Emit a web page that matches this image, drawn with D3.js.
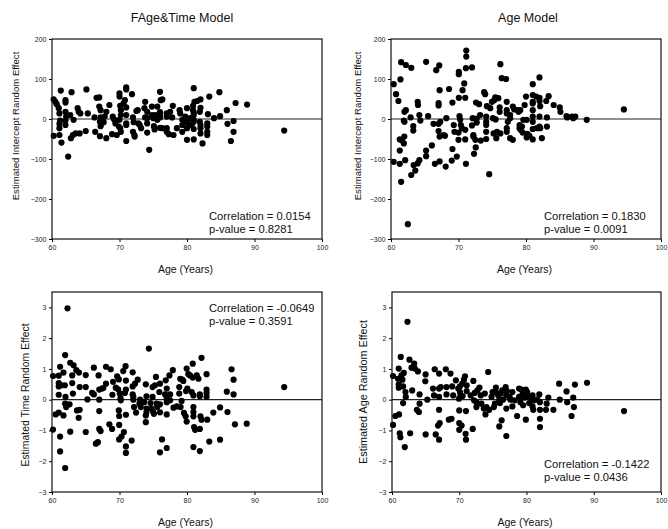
<!DOCTYPE html>
<html>
<head>
<meta charset="utf-8">
<script src="https://cdn.jsdelivr.net/npm/d3@7"></script>
<style>
  html, body { margin: 0; padding: 0; background: #fff; }
  svg { display: block; font-family: Arial, "Liberation Sans", sans-serif; }
</style>
</head>
<body>
<svg id="chart" width="668" height="529"></svg>
<script>
// Axis ticks
const ageTicks = [60, 70, 80, 90, 100];
const interceptTicks = [-300, -200, -100, 0, 100, 200];
const effectTicks = [-3, -2, -1, 0, 1, 2, 3];

// Estimated intercept random effects, FAge&Time model: [age, effect]
const fageTimeIntercept = [
  [60.25,49],[60.5,43],[60.7,37],[60.25,-42],[61.0,27],[61.1,14],[61.3,71],[61.2,-4],[61.1,-12],[61.1,-23],
  [61.1,-40],[61.4,-59],[62.0,47],[62.0,41],[62.0,18],[62.1,6],[62.0,-4],[62.0,-15],[62.4,-94],[62.9,67],
  [62.7,10],[62.8,-48],[63.1,-40],[63.2,-2],[63.5,-36],[63.8,27],[63.95,18],[64.2,14],[64.1,-36],[65.1,74],
  [65.0,-30],[65.3,14],[66.3,4],[66.4,-32],[66.6,53],[67.0,54],[67.0,31],[67.2,22],[67.2,4],[67.1,-7],
  [67.2,-18],[67.1,-43],[67.3,-11],[67.65,-8],[67.8,6],[68.05,18],[68.05,-48],[68.5,35],[68.9,-38],[69.0,6],
  [69.2,-1],[69.4,-11],[69.6,-40],[69.9,-19],[70.0,64],[70.0,56],[70.1,33],[70.2,22],[70.0,-2],[70.1,-23],
  [70.2,-32],[70.2,10],[70.6,39],[70.8,47],[71.0,79],[71.0,74],[71.0,29],[71.0,10],[71.0,-11],[71.0,-15],
  [71.0,-55],[71.85,62],[72.0,4],[72.1,-8],[72.0,-32],[72.2,-40],[72.25,-44],[72.5,20],[72.7,22],[72.8,-11],
  [73.0,-15],[73.2,-23],[73.7,27],[73.8,43],[73.8,4],[74.1,2],[74.1,-11],[74.1,-34],[74.4,-77],[74.1,18],
  [74.8,31],[74.8,10],[75.0,2],[75.1,-18],[75.2,-26],[75.3,10],[75.6,31],[75.6,-2],[76.0,68],[76.1,47],
  [76.35,49],[76.0,17],[76.0,10],[76.0,4],[76.0,-22],[76.35,-23],[77.0,14],[77.0,6],[77.0,-23],[77.0,-32],
  [77.3,-38],[77.5,18],[77.8,4],[77.9,33],[78.0,-40],[78.5,-23],[78.9,22],[79.0,14],[79.3,-2],[79.3,-15],
  [79.3,-32],[79.75,6],[79.85,-7],[80.0,27],[80.0,-23],[80.0,-52],[80.2,-12],[80.5,2],[80.7,-15],[80.9,33],
  [80.9,22],[81.0,16],[81.0,10],[81.0,-2],[81.0,-7],[81.0,-25],[81.0,-51],[81.0,77],[81.1,43],[81.5,45],
  [81.9,18],[81.9,-7],[82.0,-15],[82.0,-23],[82.0,-36],[82.0,49],[82.0,28],[82.3,-61],[83.0,-11],[83.0,-19],
  [83.0,-32],[83.0,-40],[83.1,12],[83.3,56],[84.0,2],[84.8,67],[84.9,7],[85.9,22],[86.0,-12],[86.5,-55],
  [86.9,-32],[86.9,-5],[87.2,40],[88.9,36],[94.4,-29]
];

// Estimated intercept random effects, Age model: [age, effect]
const ageModelIntercept = [
  [60.4,87],[60.4,-107],[60.75,62],[61.1,45],[61.3,-51],[61.3,-79],[61.3,-112],[61.4,99],[61.5,142],[61.5,-157],
  [61.6,-53],[61.9,-61],[61.97,-44],[62.0,18],[62.2,135],[62.2,22],[61.9,-4],[62.0,-7],[62.1,-103],[62.5,-263],
  [62.9,4],[63.0,128],[63.0,-140],[63.3,-18],[63.3,-29],[63.35,-115],[63.6,-129],[63.95,43],[64.0,35],[63.95,-111],
  [64.2,-103],[64.2,10],[64.35,-4],[65.2,143],[65.2,-79],[65.2,-93],[65.5,7],[66.05,-66],[66.3,-12],[66.5,-112],
  [66.7,122],[67.15,134],[67.05,40],[67.05,34],[67.2,72],[67.05,-12],[67.3,-7],[67.05,-30],[67.2,-44],[67.2,-106],
  [67.8,-40],[68.0,-42],[68.2,2],[68.1,-119],[68.6,75],[69.0,-104],[69.1,-75],[69.1,41],[69.3,-15],[69.4,-32],
  [69.75,-94],[70.05,118],[70.05,112],[70.05,53],[70.0,-34],[70.0,-52],[70.15,7],[70.25,-2],[70.35,-15],[70.5,-23],
  [70.6,72],[70.85,89],[71.0,53],[71.0,-27],[71.0,-51],[71.15,171],[71.15,156],[71.1,-112],[71.1,127],[72.0,129],
  [72.0,-16],[72.1,2],[72.2,-40],[72.2,-44],[72.3,-87],[72.5,-52],[72.55,-71],[72.6,41],[72.7,1],[72.7,-9],
  [73.05,37],[73.2,10],[73.3,-54],[73.8,67],[73.95,62],[74.1,6],[74.1,-7],[74.1,-15],[74.1,-32],[74.2,32],
  [74.1,-50],[74.55,-138],[74.7,27],[74.95,43],[75.1,2],[75.2,-36],[75.3,47],[75.45,54],[75.5,-1],[75.6,-48],
  [75.7,-32],[75.9,52],[76.1,18],[76.1,29],[76.2,137],[76.2,-36],[76.4,102],[77.05,100],[77.15,43],[77.15,22],
  [77.15,14],[77.15,-23],[77.15,-32],[77.3,-7],[77.65,10],[77.65,2],[77.65,-48],[78.05,31],[78.05,-52],[78.25,24],
  [78.75,22],[78.9,18],[79.05,-15],[79.05,-23],[79.15,22],[79.2,-27],[79.4,-19],[79.5,-34],[79.6,-2],[79.8,35],
  [80.0,56],[80.1,-2],[80.1,-46],[80.2,-37],[80.5,-42],[81.0,87],[81.0,60],[81.0,43],[81.0,39],[81.0,22],
  [81.0,6],[81.0,-7],[81.0,-25],[81.0,-51],[81.5,56],[81.6,-23],[82.0,104],[82.0,53],[82.0,45],[82.1,32],
  [82.0,6],[82.0,-19],[82.1,-23],[82.35,-48],[83.0,45],[83.1,4],[83.1,-19],[83.35,57],[84.1,35],[85.0,29],
  [85.1,18],[86.0,7],[86.1,4],[86.8,6],[87.0,2],[87.3,6],[89.0,-2],[94.5,24]
];

// Estimated time random effects, FAge&Time model: [age, effect]
const fageTimeSlope = [
  [60.15,0.77],[60.15,-0.97],[60.55,-0.48],[61.0,-0.42],[61.0,0.78],[61.0,0.54],[61.0,0.43],[61.0,0.16],[61.2,1.07],[61.2,-1.2],
  [61.2,-1.68],[61.4,0.47],[61.7,0.88],[61.7,-0.51],[61.9,0.47],[61.95,1.45],[62.0,0.09],[61.95,-2.22],[62.3,2.97],[61.95,-0.13],
  [62.1,-0.24],[62.6,-0.15],[62.7,1.2],[62.7,-1.04],[63.0,0.54],[63.0,0.79],[63.1,0.2],[63.2,1.12],[63.6,0.96],[63.7,-0.35],
  [63.95,-0.59],[64.1,-0.33],[64.0,0.88],[64.1,0.41],[65.0,0.8],[65.0,0.41],[65.0,-1.05],[65.25,0.01],[65.95,0.22],[66.2,0.17],
  [66.2,1.04],[66.5,-1.43],[66.8,-1.38],[66.9,0.79],[67.0,0.33],[67.0,0.0],[67.0,-0.37],[67.0,-0.95],[67.2,-1.02],[67.4,0.36],
  [67.6,0.38],[68.0,1.07],[68.0,0.52],[68.5,-0.8],[68.7,0.99],[68.9,-0.95],[68.95,0.16],[69.05,0.58],[69.45,0.39],[69.65,0.76],
  [69.8,0.34],[69.9,0.66],[69.9,-0.35],[69.95,-0.53],[69.95,-0.82],[69.95,-1.29],[70.05,0.2],[70.15,0.05],[70.2,-0.02],[70.3,-1.2],
  [70.55,0.93],[70.65,-1.05],[70.8,0.22],[70.9,1.09],[70.95,0.62],[70.95,0.33],[70.95,-0.49],[70.95,-1.52],[70.95,-1.73],[71.8,-1.33],
  [71.95,0.89],[71.95,0.43],[71.95,0.17],[72.05,0.09],[72.05,0.0],[72.15,-0.24],[72.3,0.52],[72.45,-0.42],[72.7,0.65],[72.95,-0.13],
  [73.05,0.0],[73.15,-0.24],[73.3,-0.05],[73.65,-0.08],[73.9,-0.51],[73.9,0.5],[73.9,-0.73],[74.0,0.11],[74.0,-0.29],[74.0,-0.4],
  [74.35,1.66],[74.6,-0.11],[74.75,-0.29],[74.9,0.41],[74.9,0.09],[75.0,-0.4],[75.1,-0.46],[75.25,0.47],[75.4,0.74],[75.5,-0.13],
  [75.6,-0.24],[75.9,0.25],[76.0,-0.15],[76.0,-0.41],[76.0,0.52],[76.0,-1.71],[76.3,-1.29],[76.75,0.17],[76.85,0.63],[77.0,0.36],
  [77.0,0.03],[77.0,-0.08],[77.0,-0.48],[77.0,-1.57],[77.4,0.79],[77.5,0.17],[77.5,-0.02],[77.9,0.96],[78.0,-0.26],[78.5,-0.22],
  [78.85,0.2],[78.85,0.41],[79.0,0.68],[79.05,-0.24],[79.2,-0.04],[79.3,0.65],[79.45,0.61],[79.55,-0.43],[79.8,-0.54],[79.85,0.28],
  [79.95,-0.71],[79.95,1.01],[80.05,0.36],[80.2,0.83],[80.45,0.79],[80.7,0.25],[80.85,1.17],[80.85,0.72],[80.95,0.14],[80.95,-0.24],
  [80.95,-0.4],[80.95,-0.54],[80.95,-1.54],[81.05,-0.89],[81.2,-0.98],[81.45,0.79],[81.7,0.68],[81.9,0.17],[81.9,0.11],[81.9,-0.95],
  [81.9,-1.67],[82.0,-0.54],[82.15,1.36],[82.15,-0.65],[82.9,0.83],[82.9,0.33],[82.9,0.22],[82.9,0.09],[83.0,-0.65],[83.3,-1.36],
  [83.9,-0.42],[84.9,-0.25],[84.9,-1.3],[85.9,0.26],[86.0,-0.4],[86.6,0.99],[86.9,0.65],[86.9,0.17],[87.1,-0.8],[88.85,-0.78],
  [94.4,0.41]
];

// Estimated age random effects, Age model: [age, effect]
const ageModelSlope = [
  [60.15,0.77],[60.15,-0.82],[60.5,-0.53],[60.9,0.68],[61.0,1.01],[61.0,0.5],[61.0,0.39],[61.05,-0.48],[61.15,-1.09],[61.25,-1.22],
  [61.3,1.39],[61.4,0.79],[61.55,0.65],[61.65,0.43],[61.65,-0.11],[61.75,0.87],[61.9,-1.54],[62.0,0.25],[62.05,0.09],[62.3,2.53],
  [62.6,1.3],[62.7,-1.09],[62.9,1.04],[63.0,0.3],[63.3,1.17],[63.4,1.01],[63.7,-0.33],[63.85,0.92],[64.0,-0.4],[64.1,0.17],
  [64.1,-0.13],[64.95,0.6],[65.0,0.82],[65.0,-1.13],[65.25,0.0],[66.1,0.36],[66.25,0.14],[66.35,0.99],[66.5,-1.13],[66.85,-0.84],
  [67.0,0.09],[67.0,0.36],[67.0,0.85],[67.0,-0.33],[67.0,-1.3],[67.1,-0.76],[67.25,0.41],[68.0,0.99],[68.1,0.17],[68.1,0.41],
  [68.45,-0.65],[68.7,0.85],[68.85,-0.62],[68.95,0.43],[69.1,0.14],[69.5,0.63],[69.85,0.36],[69.95,0.03],[70.0,-0.35],[70.0,-0.98],
  [70.0,-0.76],[70.1,0.43],[70.1,0.25],[70.2,0.14],[70.35,-0.84],[70.45,0.52],[70.5,0.12],[70.7,0.65],[70.85,0.76],[70.95,-1.11],
  [71.0,-1.3],[71.0,-0.37],[71.1,0.47],[71.1,0.28],[71.7,0.14],[72.0,-0.95],[72.1,0.61],[72.3,0.22],[72.2,-0.02],[72.55,-0.24],
  [72.55,-0.08],[72.7,0.3],[73.0,0.39],[73.2,0.14],[73.3,-0.13],[73.65,-0.29],[73.8,0.2],[73.9,-0.48],[74.05,-0.24],[74.3,0.9],
  [74.45,-0.33],[74.8,0.09],[74.95,0.25],[75.15,-0.24],[75.3,-0.13],[75.45,0.39],[75.55,0.22],[75.8,0.14],[75.95,-0.87],[75.95,-0.02],
  [76.05,-0.11],[76.15,0.2],[76.3,-0.67],[76.4,0.3],[76.5,0.0],[76.9,0.41],[77.0,-0.29],[77.0,-1.18],[77.0,0.14],[77.1,0.28],
  [77.5,0.09],[77.6,0.0],[77.9,0.25],[77.9,-0.22],[78.25,-0.02],[78.6,-0.53],[78.9,0.36],[78.9,0.09],[79.1,-0.08],[79.25,0.33],
  [79.4,0.17],[79.5,-0.18],[79.75,0.07],[79.9,-0.65],[79.9,0.33],[80.1,0.25],[80.25,0.09],[80.4,-0.11],[80.75,0.03],[80.9,-0.22],
  [80.9,0.14],[81.0,-0.33],[81.1,-0.02],[81.6,0.0],[81.9,0.17],[82.0,-0.33],[82.0,-0.62],[82.0,-0.89],[82.0,-0.08],[82.9,-0.33],
  [83.0,-0.13],[83.25,0.07],[84.0,-0.33],[84.85,0.52],[84.95,0.0],[85.95,0.27],[86.05,-0.08],[86.7,-0.53],[86.95,0.07],[87.05,-0.24],
  [87.2,0.49],[89.0,0.55],[94.5,-0.37]
];

// Panel titles, axis titles and correlation summaries
const panelTitles = ["FAge&Time Model", "Age Model"];
const yTitles = [
  "Estimated Intercept Random Effect",
  "Estimated Intercept Random Effect",
  "Estimated Time Random Effect",
  "Estimated Age Random Effect"
];
const correlations = ["0.0154", "0.1830", "-0.0649", "-0.1422"];
const pValues = ["0.8281", "0.0091", "0.3591", "0.0436"];

const FONT = 'Arial, "Liberation Sans", sans-serif';

const svg = d3.select("#chart");

// Layout of the four panels (frame position and text placement)
const panels = [
  { data: fageTimeIntercept, yDomain: [-300, 200], yTicks: interceptTicks,
    left: 52, top: 39, width: 270, height: 200,
    title: panelTitles[0], titleX: 182, yTitle: yTitles[0], yTitleX: 15, yTitleY: 126, yTitleSize: 9.6,
    corr: correlations[0], p: pValues[0], noteX: 209, noteY: 219.5 },
  { data: ageModelIntercept, yDomain: [-300, 200], yTicks: interceptTicks,
    left: 391, top: 39, width: 270, height: 200,
    title: panelTitles[1], titleX: 528, yTitle: yTitles[1], yTitleX: 357, yTitleY: 126, yTitleSize: 9.6,
    corr: correlations[1], p: pValues[1], noteX: 544, noteY: 219.5 },
  { data: fageTimeSlope, yDomain: [-3, 3.5], yTicks: effectTicks,
    left: 52, top: 292, width: 270, height: 200,
    title: null, yTitle: yTitles[2], yTitleX: 25, yTitleY: 395, yTitleSize: 10.4,
    corr: correlations[2], p: pValues[2], noteX: 209, noteY: 311.5 },
  { data: ageModelSlope, yDomain: [-3, 3.5], yTicks: effectTicks,
    left: 392, top: 292, width: 269, height: 200,
    title: null, yTitle: yTitles[3], yTitleX: 363, yTitleY: 392, yTitleSize: 10.8,
    corr: correlations[3], p: pValues[3], noteX: 544, noteY: 467.5 }
];

panels.forEach(p => {
  const x = d3.scaleLinear().domain([60, 100]).range([p.left, p.left + p.width]);
  const y = d3.scaleLinear().domain(p.yDomain).range([p.top + p.height, p.top]);

  const g = svg.append("g");

  // y axis
  const yAxis = g.append("g")
    .attr("transform", `translate(${p.left},0)`)
    .call(d3.axisLeft(y).tickValues(p.yTicks).tickSize(3).tickPadding(2.5).tickFormat(d3.format("d")));
  yAxis.select(".domain").remove();
  yAxis.selectAll("text").attr("font-size", 7).attr("font-family", FONT).attr("fill", "#222");
  yAxis.selectAll("line").attr("stroke", "#000");

  // x axis
  const xAxis = g.append("g")
    .attr("transform", `translate(0,${p.top + p.height})`)
    .call(d3.axisBottom(x).tickValues(ageTicks).tickSize(3).tickPadding(3.5));
  xAxis.select(".domain").remove();
  xAxis.selectAll("text").attr("font-size", 7).attr("font-family", FONT).attr("fill", "#222");
  xAxis.selectAll("line").attr("stroke", "#000");

  // zero reference line
  g.append("line")
    .attr("x1", x(60)).attr("x2", x(100))
    .attr("y1", y(0)).attr("y2", y(0))
    .attr("stroke", "#222").attr("stroke-width", 1.2);

  // points
  g.append("g").selectAll("circle")
    .data(p.data)
    .join("circle")
    .attr("cx", d => x(d[0]))
    .attr("cy", d => y(d[1]))
    .attr("r", 3.1)
    .attr("fill", "#000");

  // frame
  g.append("rect")
    .attr("x", p.left).attr("y", p.top)
    .attr("width", p.width).attr("height", p.height)
    .attr("fill", "none").attr("stroke", "#111").attr("stroke-width", 1.2);

  // panel title
  if (p.title) {
    g.append("text")
      .attr("x", p.titleX).attr("y", 21.5)
      .attr("text-anchor", "middle")
      .attr("font-size", 12.5).attr("font-family", FONT).attr("fill", "#111")
      .text(p.title);
  }

  // x axis title
  g.append("text")
    .attr("x", p.left + p.width / 2 - 1.5).attr("y", p.top + p.height + 34)
    .attr("text-anchor", "middle")
    .attr("font-size", 10.5).attr("font-family", FONT).attr("fill", "#111")
    .text("Age (Years)");

  // y axis title
  g.append("text")
    .attr("transform", `translate(${p.yTitleX},${p.yTitleY}) rotate(-90)`)
    .attr("text-anchor", "middle")
    .attr("dominant-baseline", "central")
    .attr("font-size", p.yTitleSize).attr("font-family", FONT).attr("fill", "#111")
    .text(p.yTitle);

  // correlation summary
  const note = g.append("text")
    .attr("font-size", 11.2).attr("font-family", FONT).attr("fill", "#111");
  note.append("tspan").attr("x", p.noteX).attr("y", p.noteY).text(`Correlation = ${p.corr}`);
  note.append("tspan").attr("x", p.noteX).attr("y", p.noteY + 13).text(`p-value = ${p.p}`);
});
</script>
</body>
</html>
